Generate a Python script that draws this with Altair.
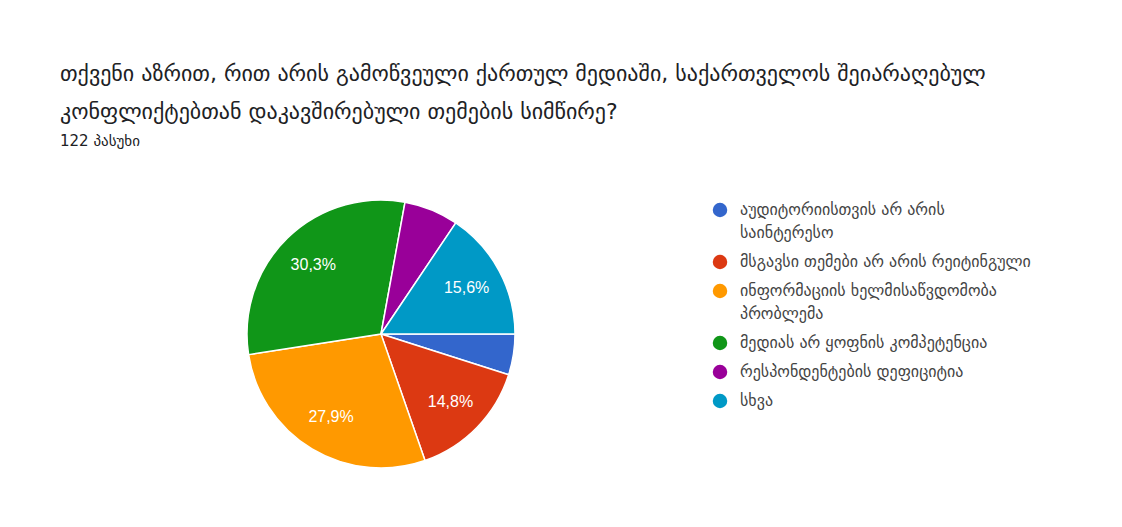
import altair as alt
import pandas as pd

categories = [
    "აუდიტორიისთვის არ არის|საინტერესო",
    "მსგავსი თემები არ არის რეიტინგული",
    "ინფორმაციის ხელმისაწვდომობა|პრობლემა",
    "მედიას არ ყოფნის კომპეტენცია",
    "რესპონდენტების დეფიციტია",
    "სხვა",
]
counts = [6, 18, 34, 37, 8, 19]
colors = ["#3366cc", "#dc3912", "#ff9900", "#109618", "#990099", "#0099c6"]

title_lines = [
    "თქვენი აზრით, რით არის გამოწვეული ქართულ მედიაში,  საქართველოს შეიარაღებულ",
    "კონფლიქტებთან დაკავშირებული თემების სიმწირე?",
]
subtitle = "122 პასუხი"

df = pd.DataFrame({"cat": categories, "n": counts, "order": list(range(len(categories)))})

FONT = "DejaVu Sans"
cx, cy = 321, 166

base = alt.Chart(df).transform_joinaggregate(
    total="sum(n)"
).transform_calculate(
    pct="datum.n / datum.total",
    lbl="datum.n / datum.total > 0.1 ? replace(format(datum.n / datum.total, '.1%'), '.', ',') : ''",
)

theta = alt.Theta("n:Q", stack=True, scale=alt.Scale(range=[1.5708, 7.8540]))

pie = base.mark_arc(radius=134, stroke="white", strokeWidth=1.5).encode(
    theta=theta,
    order=alt.Order("order:Q"),
    x=alt.value(cx),
    y=alt.value(cy),
    color=alt.Color(
        "cat:N",
        sort=categories,
        scale=alt.Scale(domain=categories, range=colors),
        legend=alt.Legend(
            title=None,
            orient="none",
            legendX=652,
            legendY=34,
            symbolType="circle",
            symbolSize=210,
            symbolStrokeWidth=0,
            labelFont=FONT,
            labelFontSize=16,
            labelColor="#444444",
            labelLimit=450,
            labelOffset=12,
            rowPadding=13,
            labelExpr="split(datum.label, '|')",
        ),
    ),
)

labels = base.mark_text(
    radius=97, font="Liberation Sans", fontSize=16, color="white"
).encode(
    theta=theta,
    order=alt.Order("order:Q"),
    x=alt.value(cx),
    y=alt.value(cy),
    text="lbl:N",
)

chart = alt.layer(pie, labels).properties(
    width=1050,
    height=345,
    padding={"left": 52, "top": 160, "right": 0, "bottom": 0},
    autosize=alt.AutoSizeParams(type="none"),
    title=alt.TitleParams(
        text=title_lines,
        subtitle=subtitle,
        anchor="start",
        frame="group",
        orient="top",
        offset=18,
        font=FONT,
        fontSize=22,
        fontWeight="normal",
        color="#202124",
        lineHeight=38,
        subtitleFont=FONT,
        subtitleFontSize=15,
        subtitleColor="#202124",
        subtitlePadding=10,
    ),
    background="white",
).configure(
    style={"guide-label": {"lineHeight": 23}}
).configure_view(stroke=None)

chart.save("out.html", embed_options={"renderer": "svg", "actions": False})
